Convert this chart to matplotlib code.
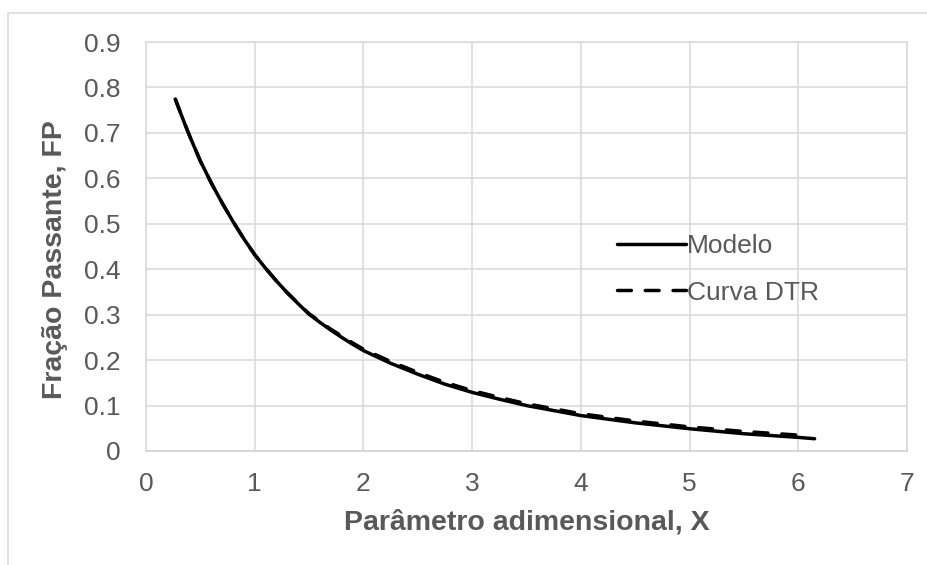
import numpy as np
import matplotlib
matplotlib.use("Agg")
import matplotlib.pyplot as plt
from matplotlib.patches import Rectangle

# --- dados ---
x_modelo = [0.27, 0.30, 0.35, 0.40, 0.45, 0.50, 0.55, 0.60, 0.65, 0.70, 0.80, 0.90,
            1.00, 1.10, 1.20, 1.30, 1.40, 1.50, 1.60, 1.70, 1.80, 1.90, 2.00,
            2.25, 2.50, 2.75, 3.00, 3.25, 3.50, 3.75, 4.00, 4.50, 5.00, 5.50, 6.00, 6.15]
fp_modelo = [0.774, 0.755, 0.724, 0.694, 0.666, 0.638, 0.614, 0.590, 0.568, 0.546, 0.505, 0.467,
             0.432, 0.402, 0.374, 0.348, 0.324, 0.301, 0.283, 0.266, 0.250, 0.235, 0.221,
             0.193, 0.169, 0.147, 0.129, 0.114, 0.100, 0.089, 0.078, 0.062, 0.049, 0.038, 0.030, 0.027]

x_dtr = [0.27, 0.30, 0.35, 0.40, 0.45, 0.50, 0.55, 0.60, 0.65, 0.70, 0.80, 0.90,
         1.00, 1.10, 1.20, 1.30, 1.40, 1.50, 1.60, 1.70, 1.80, 1.90, 2.00,
         2.25, 2.50, 2.75, 3.00, 3.25, 3.50, 3.75, 4.00, 4.50, 5.00, 5.50, 6.00, 6.10]
fp_dtr = [0.774, 0.755, 0.724, 0.694, 0.666, 0.638, 0.614, 0.590, 0.568, 0.546, 0.505, 0.467,
          0.432, 0.402, 0.374, 0.348, 0.325, 0.302, 0.285, 0.268, 0.253, 0.238, 0.224,
          0.197, 0.173, 0.151, 0.133, 0.118, 0.104, 0.093, 0.082, 0.066, 0.053, 0.043, 0.035, 0.034]

x_ticks = [0, 1, 2, 3, 4, 5, 6, 7]
y_ticks = [0, 0.1, 0.2, 0.3, 0.4, 0.5, 0.6, 0.7, 0.8, 0.9]
y_ticklabels = ["0", "0.1", "0.2", "0.3", "0.4", "0.5", "0.6", "0.7", "0.8", "0.9"]

cinza = "#595959"
grade = "#d9d9d9"

plt.rcParams["font.family"] = ["Liberation Sans", "DejaVu Sans"]

fig = plt.figure(figsize=(9.28, 5.65), dpi=100)
ax = fig.add_axes([146 / 928, 1 - 451 / 565, 761 / 928, 409 / 565])

# borda da área do gráfico
fig.patches.append(Rectangle((8 / 928, -0.05), 1.0, 1 - 13 / 565 + 0.05,
                             transform=fig.transFigure, fill=False,
                             edgecolor=grade, linewidth=1.1))

ax.plot(x_modelo, fp_modelo, color="black", linewidth=2.5,
        solid_capstyle="round", solid_joinstyle="round", label="Modelo")
ax.plot(x_dtr, fp_dtr, color="black", linewidth=2.5, dashes=(4, 4),
        dash_capstyle="round", dash_joinstyle="round", label="Curva DTR")

# --- eixos ---
ax.set_xlim(0, 7)
ax.set_ylim(0, 0.9)
ax.set_xticks(x_ticks)
ax.set_yticks(y_ticks)
ax.set_yticklabels(y_ticklabels)
ax.tick_params(axis="x", length=0, pad=15, labelsize=19, labelcolor=cinza)
ax.tick_params(axis="y", length=0, pad=18, labelsize=19, labelcolor=cinza)

ax.grid(True, color=grade, linewidth=1.1)
ax.set_axisbelow(True)
for lado in ["top", "right", "left", "bottom"]:
    ax.spines[lado].set_color(grade)
    ax.spines[lado].set_linewidth(1.1)
ax.spines["bottom"].set_color("#cfcfcf")

ax.set_xlabel("Parâmetro adimensional, X", fontsize=20.5, fontweight="bold", color=cinza)
ax.set_ylabel("Fração Passante, FP", fontsize=20.5, fontweight="bold", color=cinza)
ax.xaxis.set_label_coords(0.5, -0.174)
ax.yaxis.set_label_coords(-0.12, 0.468)
ax.xaxis.label.set_va("center")
ax.yaxis.label.set_va("center")

# --- legenda ---
leg = ax.legend(loc="center left", bbox_to_anchor=(0.588, 0.444), frameon=False,
                fontsize=19, handlelength=2.6, handletextpad=0.05,
                labelspacing=0.85, labelcolor=cinza)

fig.savefig("out.png", dpi=100)
plt.close(fig)
